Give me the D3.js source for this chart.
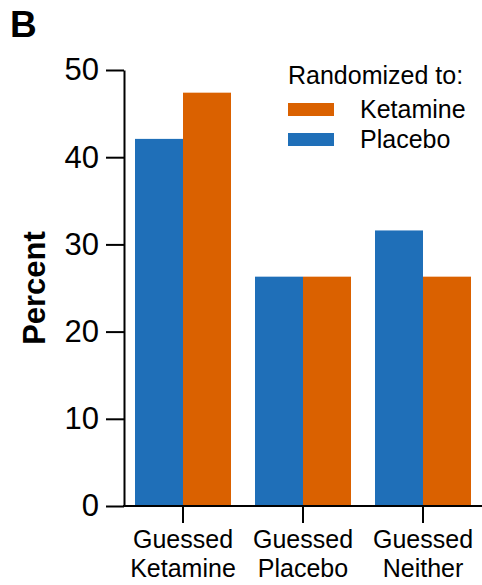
<!DOCTYPE html>
<html>
<head>
<meta charset="utf-8">
<script src="https://cdn.jsdelivr.net/npm/d3@7"></script>
<style>
  body { margin: 0; background: #fff; }
  text { font-family: "Liberation Sans", Arial, sans-serif; fill: #000; }
</style>
</head>
<body>
<script>
// groups along the x axis and the two randomization arms
var groups = ["Guessed Ketamine", "Guessed Placebo", "Guessed Neither"];
var arms = ["Placebo", "Ketamine"];
var placeboPct = [42.1, 26.3, 31.6];
var ketaminePct = [47.4, 26.3, 26.3];
var yTicks = [0, 10, 20, 30, 40, 50];

var colors = { Placebo: "#1f6fb8", Ketamine: "#da6100" };

var width = 482, height = 585;
var svg = d3.select("body").append("svg")
  .attr("width", width)
  .attr("height", height);

// rows for the bars
var rows = [];
groups.forEach(function(g, i) {
  rows.push({ group: g, arm: "Placebo", value: placeboPct[i] });
  rows.push({ group: g, arm: "Ketamine", value: ketaminePct[i] });
});

var x = d3.scaleBand().domain(groups).range([123, 483]).paddingInner(0.2).paddingOuter(0.1);
var xInner = d3.scaleBand().domain(arms).range([0, x.bandwidth()]);
var y = d3.scaleLinear().domain([0, 50]).range([506, 70]);

// bars
svg.append("g").selectAll("rect")
  .data(rows)
  .join("rect")
  .attr("x", function(d) { return x(d.group) + xInner(d.arm); })
  .attr("y", function(d) { return y(d.value); })
  .attr("width", xInner.bandwidth())
  .attr("height", function(d) { return y(0) - y(d.value); })
  .attr("fill", function(d) { return colors[d.arm]; });

// y axis
var yAxis = d3.axisLeft(y).tickValues(yTicks).tickSize(18).tickPadding(7).tickSizeOuter(0);
var gy = svg.append("g").attr("transform", "translate(124,0)").call(yAxis);
gy.select(".domain").attr("stroke-width", 2);
gy.selectAll(".tick line").attr("stroke-width", 2);
gy.selectAll(".tick text").style("font-size", "31px");

// x axis
var xAxis = d3.axisBottom(x).tickSize(17).tickSizeOuter(0).tickFormat("");
var gx = svg.append("g").attr("transform", "translate(0,506)").call(xAxis);
gx.select(".domain").attr("stroke-width", 2).attr("d", "M123,0H482");
gx.selectAll(".tick line").attr("stroke-width", 2);

// two-line x labels
gx.selectAll(".tick").each(function(d) {
  var parts = d.split(" ");
  var t = d3.select(this).append("text")
    .attr("text-anchor", "middle")
    .style("font-size", "25px")
    .style("fill", "#000");
  t.append("tspan").attr("x", 0).attr("y", 42).text(parts[0]);
  t.append("tspan").attr("x", 0).attr("y", 71).text(parts[1]);
});

// y label
svg.append("text")
  .attr("transform", "translate(45,288) rotate(-90)")
  .attr("text-anchor", "middle")
  .style("font-size", "31px")
  .style("font-weight", "bold")
  .text("Percent");

// panel letter
svg.append("text")
  .attr("x", 10).attr("y", 37)
  .style("font-size", "37px")
  .style("font-weight", "bold")
  .text("B");

// legend
var legend = svg.append("g");
legend.append("text").attr("x", 288).attr("y", 84).style("font-size", "25px").text("Randomized to:");
var legendArms = ["Ketamine", "Placebo"];
legendArms.forEach(function(a, i) {
  legend.append("rect")
    .attr("x", 288).attr("y", 103 + i * 30)
    .attr("width", 46).attr("height", 13)
    .attr("fill", colors[a]);
  legend.append("text")
    .attr("x", 360).attr("y", 118 + i * 30)
    .style("font-size", "25px")
    .text(a);
});
</script>
</body>
</html>
